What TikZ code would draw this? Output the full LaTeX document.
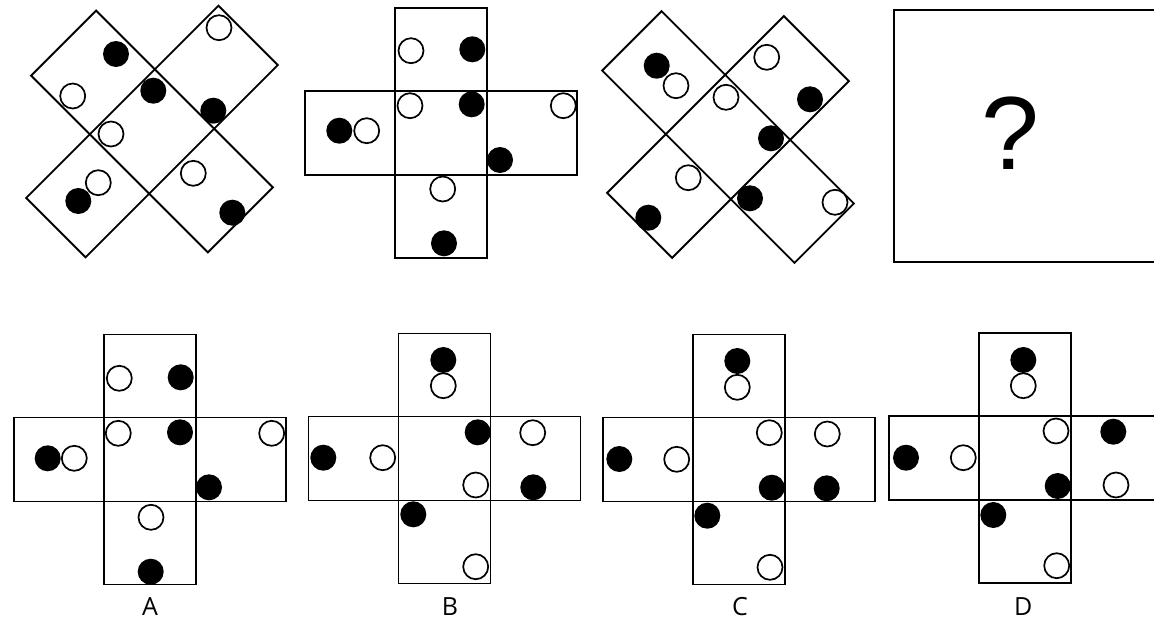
\documentclass[tikz,border=0pt]{standalone}
\usepackage{fontspec}
\usepackage{tikz}
\usetikzlibrary{positioning}
\newfontfamily\lblfont{Open Sans}
\newfontfamily\qfont{Liberation Sans}

\begin{document}
\begin{tikzpicture}[x=1pt, y=-1pt,
  net/.style={draw=black, line width=1.9pt},
  wdot/.style={draw=black, fill=white, line width=1.7pt},
  bdot/.style={fill=black},
  lbl/.style={anchor=base, font=\lblfont\fontsize{25}{25}\selectfont, inner sep=0pt}
]
\useasboundingbox (0,0) rectangle (1154,619);
\fill[white] (0,0) rectangle (1154,619);

% the cross nets: centre x/y and turn
\foreach \cx/\cy/\rot in {152/131.5/45, 441/133/0, 728/137/-45,
                          150/459.5/0, 444.5/458.5/0, 739/459.5/0, 1025/458/0} {
  \begin{scope}[shift={(\cx,\cy)}, rotate=\rot]
    \draw[net] (-136,-42) rectangle (136,42);
    \draw[net] (-46,-125) rectangle (46,125);
  \end{scope}
}

% question box
\draw[net] (894,9.7) rectangle (1162,261.7);
\node[anchor=base, inner sep=0pt, font=\qfont\fontsize{104}{104}\selectfont] (q) at (1010,169) {?};

% black dots
\foreach \x/\y in {116/54, 153.3/90.7, 213.3/110.7, 78.3/201, 232.3/212.7,
                   472.3/49.3, 471.7/104.3, 339.3/130.7, 500/160, 444/243.3,
                   656.7/65.7, 810/99.3, 771/138.3, 648.3/217.7, 750/198.3,
                   180.7/377.3, 180/432.3, 47.7/458.3, 209/487.3, 150.7/571.7,
                   443.3/360, 323.3/457.7, 477.7/432.3, 533.3/487.3, 413.3/514.3,
                   737.3/361, 619.3/459, 771.7/487.7, 826.7/488.3, 707.3/515.7,
                   1023.3/360, 906/457.7, 1057.7/486, 1113.3/431.7, 993.3/515}
  \fill[bdot] (\x,\y) circle[radius=13];

% white dots
\foreach \x/\y in {72.7/96, 219/27.7, 111/134, 98.3/182.7, 193.3/173.3,
                   411/50.7, 410/105.7, 563.3/105.7, 366.7/130.7, 442.7/189,
                   676/85.7, 766.7/57.3, 726/97.3, 688.3/177.7, 835/202.3,
                   119.3/378.3, 118.3/433.3, 271.7/433.3, 74.3/458.3, 151/517.3,
                   443.3/385.7, 382.7/457.7, 475.7/485, 532.7/432.7, 475.7/566.7,
                   737.3/387.3, 676.7/459.3, 769.3/432.7, 827.3/434, 770/567.3,
                   1023.3/385.7, 963.3/457.7, 1056/431, 1116/485, 1056.7/565.7}
  \draw[wdot] (\x,\y) circle[radius=12.5];

% answer labels
\node[lbl] (lA) at (150,615) {A};
\node[lbl] (lB) at (450,615) {B};
\node[lbl] (lC) at (740,615) {C};
\node[lbl] (lD) at (1023.3,615) {D};
\end{tikzpicture}
\end{document}
